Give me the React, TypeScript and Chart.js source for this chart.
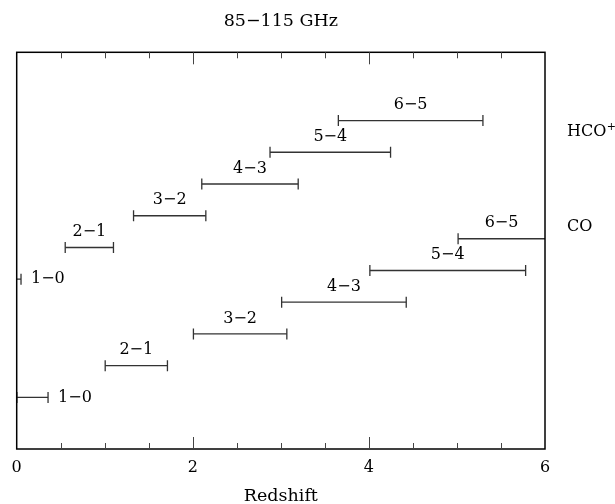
import React, { useEffect, useRef } from "react";
import { Chart, registerables } from "chart.js";

Chart.register(...registerables);

// ---- data ----
const transitions = ["1\u22120", "2\u22121", "3\u22122", "4\u22123", "5\u22124", "6\u22125"];
const coLow = [0.002, 1.005, 2.007, 3.009, 4.011, 5.013];
const coHigh = [0.356, 1.712, 3.068, 4.424, 5.78, 7.135];
const hcoLow = [-0.224, 0.551, 1.327, 2.102, 2.877, 3.653];
const hcoHigh = [0.049, 1.099, 2.148, 3.197, 4.246, 5.295];
const xTickValues = [0, 2, 4, 6];
const titleText = "85\u2212115 GHz";
const xTitle = "Redshift";

const FONT = "'DejaVu Serif', 'Liberation Serif', serif";
const BAR_COLOR = "#333333";

type Series = { name: string; low: number[]; high: number[]; offset: number; labelLevel: number };
const series: Series[] = [
  { name: "CO", low: coLow, high: coHigh, offset: 1, labelLevel: 6.37 },
  { name: "HCO+", low: hcoLow, high: hcoHigh, offset: 4.725, labelLevel: 9.37 },
];

const annotPlugin = {
  id: "annot",
  afterDraw(chart: any) {
    const { ctx, chartArea: a, scales } = chart;
    const x = scales.x;
    const y = scales.y;
    ctx.save();

    // frame
    ctx.strokeStyle = "#000";
    ctx.lineWidth = 1.5;
    ctx.strokeRect(a.left, a.top, a.right - a.left, a.bottom - a.top);

    // inward ticks on top and bottom
    ctx.strokeStyle = "#444";
    ctx.lineWidth = 1;
    const xmin = x.min, xmax = x.max;
    for (let k = 0; xmin + k * 0.5 <= xmax + 1e-9; k++) {
      const v = xmin + k * 0.5;
      const px = Math.round(x.getPixelForValue(v)) + 0.5;
      const major = xTickValues.some((t) => Math.abs(t - v) < 1e-9);
      if (v === xmin || v === xmax) continue;
      const len = major ? 12 : 6;
      ctx.beginPath();
      ctx.moveTo(px, a.bottom);
      ctx.lineTo(px, a.bottom - len);
      ctx.moveTo(px, a.top);
      ctx.lineTo(px, a.top + len);
      ctx.stroke();
    }

    // transition labels
    ctx.fillStyle = "#000";
    ctx.font = `16px ${FONT}`;
    ctx.textBaseline = "middle";
    series.forEach((s) => {
      transitions.forEach((t, i) => {
        const level = s.offset + i;
        const py = y.getPixelForValue(level);
        if (i === 0) {
          ctx.textAlign = "left";
          ctx.fillText(t, x.getPixelForValue(s.high[i]) + 10, py);
        } else {
          const lo = Math.max(s.low[i], xmin);
          const hi = Math.min(s.high[i], xmax);
          const cx = x.getPixelForValue((lo + hi) / 2);
          ctx.textAlign = "center";
          ctx.fillText(t, cx, py - 15.5);
        }
      });
    });

    // species labels at right
    series.forEach((s) => {
      const py = y.getPixelForValue(s.labelLevel);
      const lx = a.right + 22;
      ctx.textAlign = "left";
      if (s.name.endsWith("+")) {
        const base = s.name.slice(0, -1);
        ctx.font = `16px ${FONT}`;
        ctx.fillText(base, lx, py);
        const w = ctx.measureText(base).width;
        ctx.font = `11px ${FONT}`;
        ctx.fillText("+", lx + w + 0.5, py - 5);
      } else {
        ctx.font = `16px ${FONT}`;
        ctx.fillText(s.name, lx, py);
      }
    });

    ctx.restore();
  },
};

export default function App() {
  const ref = useRef<HTMLCanvasElement | null>(null);

  useEffect(() => {
    document.body.style.margin = "0";
    const canvas = ref.current;
    if (!canvas) return;

    const datasets: any[] = [];
    series.forEach((s) => {
      transitions.forEach((t, i) => {
        const level = s.offset + i;
        datasets.push({
          label: `${s.name} ${t}`,
          data: [
            { x: s.low[i], y: level },
            { x: s.high[i], y: level },
          ],
          showLine: true,
          borderColor: BAR_COLOR,
          borderWidth: 1.3,
          pointStyle: "line",
          pointRotation: 90,
          pointRadius: 5.5,
          pointBorderColor: BAR_COLOR,
          pointBorderWidth: 1.3,
          pointHoverRadius: 5.5,
          clip: 0,
        });
      });
    });

    const chart = new Chart(canvas, {
      type: "scatter",
      data: { datasets },
      options: {
        animation: false,
        responsive: false,
        maintainAspectRatio: false,
        events: [],
        layout: { padding: { left: 16.7, right: 70, top: 0, bottom: 0 } },
        plugins: {
          legend: { display: false },
          tooltip: { enabled: false },
          title: {
            display: true,
            text: titleText,
            color: "#000",
            font: { family: FONT, size: 17.5, weight: "normal", lineHeight: 1.2 },
            padding: { top: 10.8, bottom: 20.5 },
          },
        },
        scales: {
          x: {
            type: "linear",
            position: "bottom",
            min: 0,
            max: 6,
            grid: { display: false, drawTicks: false },
            border: { display: false },
            ticks: {
              stepSize: 2,
              color: "#000",
              padding: 9,
              font: { family: FONT, size: 16 },
              maxRotation: 0,
              callback: (v: any) => (xTickValues.includes(Number(v)) ? String(v) : ""),
            },
            title: {
              display: true,
              text: xTitle,
              color: "#000",
              font: { family: FONT, size: 17.5, lineHeight: 0.9 },
              padding: { top: 0, bottom: 0 },
            },
            afterFit: (scale: any) => {
              scale.height = 55;
            },
          },
          y: {
            type: "linear",
            display: false,
            min: -0.625,
            max: 11.875,
          },
        },
      },
      plugins: [annotPlugin],
    });

    return () => chart.destroy();
  }, []);

  return (
    <div style={{ width: 615, height: 504 }}>
      <canvas ref={ref} width={615} height={504} style={{ display: "block" }} />
    </div>
  );
}
